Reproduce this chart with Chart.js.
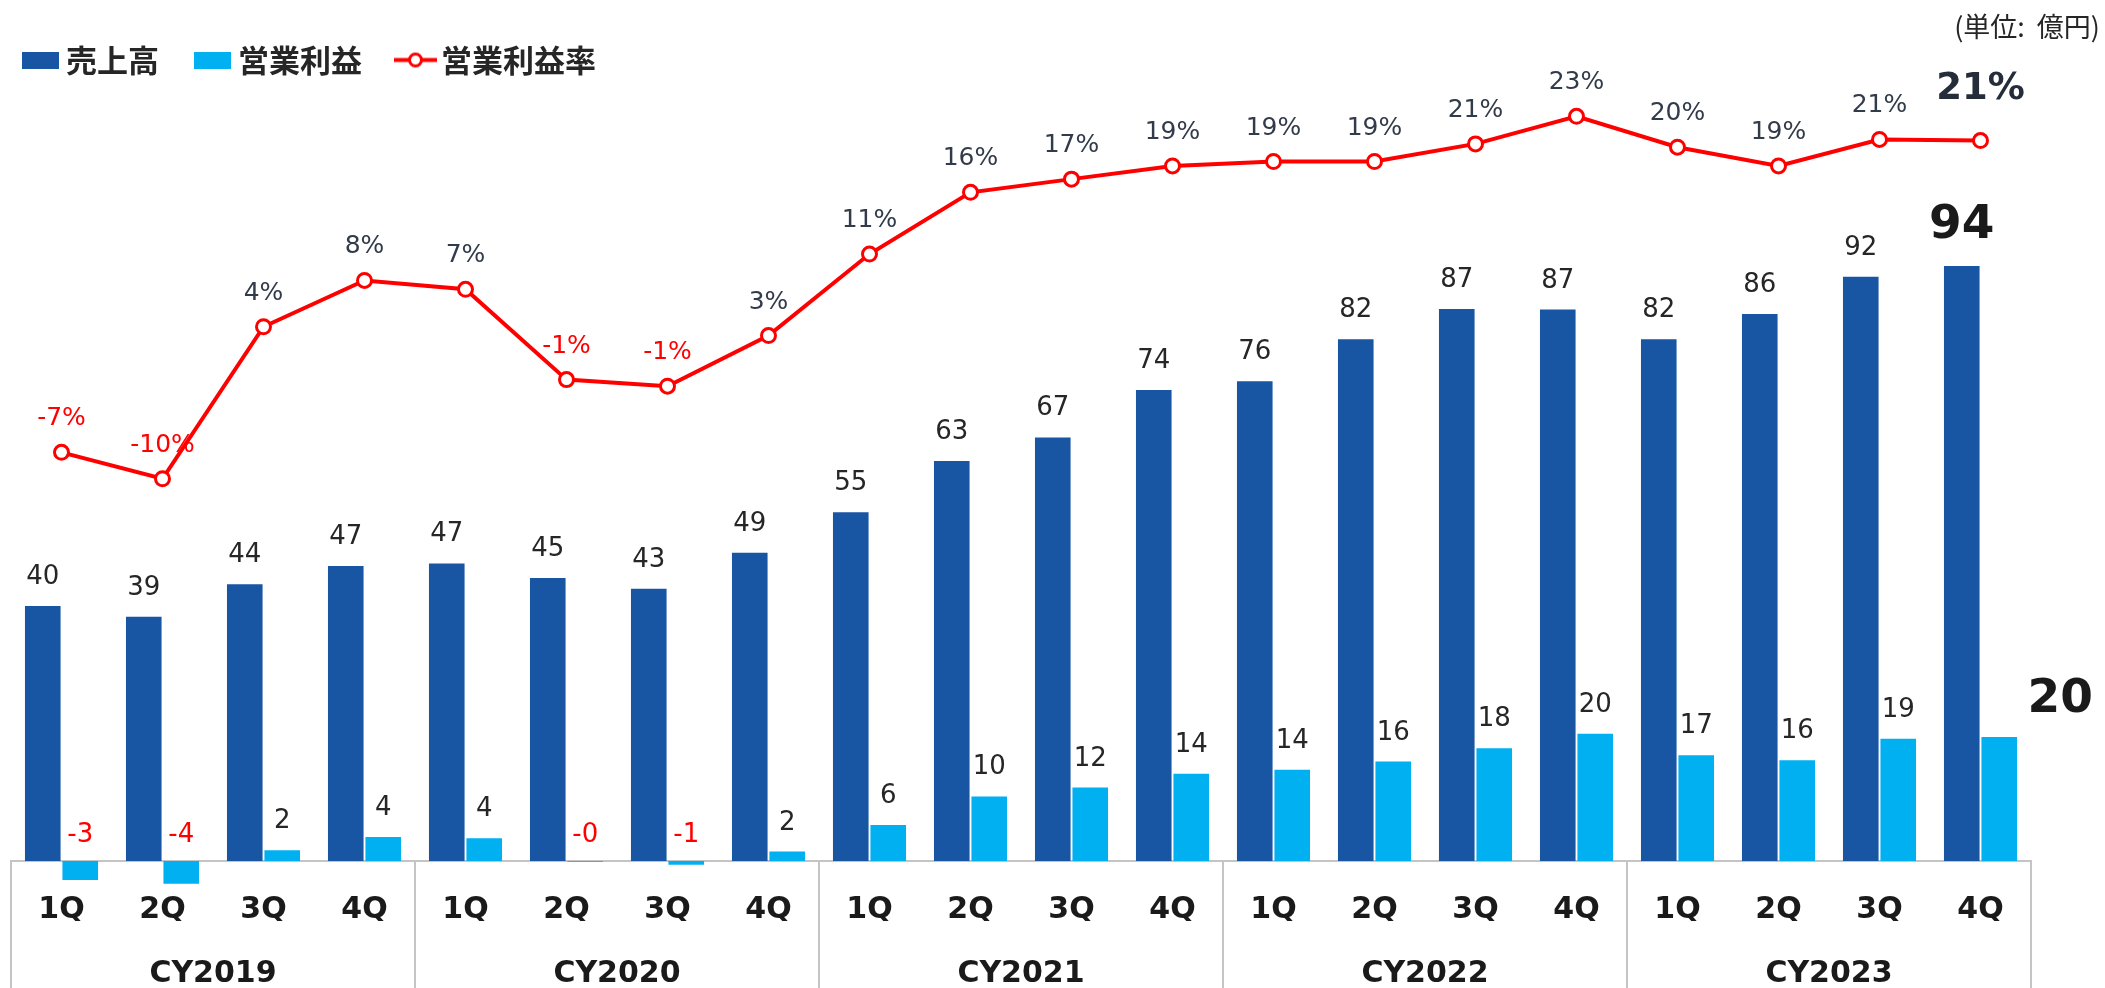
<!DOCTYPE html>
<html lang="ja">
<head>
  <meta charset="UTF-8" />
  <title>売上高・営業利益・営業利益率</title>
  <script src="https://cdn.jsdelivr.net/npm/chart.js@4.4.0"></script>
  <style>
    html, body { margin: 0; padding: 0; background: #fff; }
    canvas { display: block; }
  </style>
</head>
<body>
  <canvas id="salesChart" width="2105" height="988"></canvas>

  <script>
    // quarter / year axis labels
    const quarters = ['1Q', '2Q', '3Q', '4Q', '1Q', '2Q', '3Q', '4Q', '1Q', '2Q', '3Q', '4Q',
                      '1Q', '2Q', '3Q', '4Q', '1Q', '2Q', '3Q', '4Q'];
    const years = ['CY2019', 'CY2020', 'CY2021', 'CY2022', 'CY2023'];

    // 億円
    const sales = [40.3, 38.6, 43.7, 46.6, 47.0, 44.7, 43.0, 48.7, 55.1, 63.2,
                   66.9, 74.4, 75.8, 82.4, 87.2, 87.1, 82.4, 86.4, 92.3, 94.0];
    const opProfit = [-3.0, -3.6, 1.7, 3.8, 3.6, -0.1, -0.6, 1.5, 5.7, 10.2,
                      11.6, 13.8, 14.4, 15.7, 17.8, 20.1, 16.7, 15.9, 19.3, 19.6];
    // %
    const opMargin = [-7.4, -9.8, 4.0, 8.2, 7.4, -0.8, -1.4, 3.2, 10.6, 16.2,
                      17.4, 18.6, 19.0, 19.0, 20.6, 23.1, 20.3, 18.6, 21.0, 20.9];

    const highlightIndex = 19;

    const salesColor = '#1855a3';
    const profitColor = '#00b0f0';
    const marginColor = '#ff0000';
    const textColor = '#262626';

    function fmt(v) {
      const r = Math.abs(Math.round(v));
      return (v < 0 ? '-' : '') + r;
    }

    function makeIcon(w, h, draw) {
      const c = document.createElement('canvas');
      c.width = w;
      c.height = h;
      draw(c.getContext('2d'), w, h);
      return c;
    }

    const legendIcons = [
      makeIcon(37, 17, (g, w, h) => { g.fillStyle = salesColor; g.fillRect(0, 0, w, h); }),
      makeIcon(37, 17, (g, w, h) => { g.fillStyle = profitColor; g.fillRect(0, 0, w, h); }),
      makeIcon(43, 19, (g, w, h) => {
        g.strokeStyle = marginColor;
        g.lineWidth = 4;
        g.beginPath();
        g.moveTo(0, h / 2);
        g.lineTo(w, h / 2);
        g.stroke();
        g.beginPath();
        g.arc(w / 2, h / 2, 6, 0, Math.PI * 2);
        g.fillStyle = '#fff';
        g.fill();
        g.lineWidth = 3;
        g.stroke();
      })
    ];

    // value labels above bars and line points
    const valueLabels = {
      id: 'valueLabels',
      afterDatasetsDraw(chart) {
        const ctx = chart.ctx;
        ctx.save();
        ctx.textAlign = 'center';
        ctx.textBaseline = 'alphabetic';

        [0, 1].forEach(di => {
          const values = chart.data.datasets[di].data;
          chart.getDatasetMeta(di).data.forEach((bar, i) => {
            const v = values[i];
            const top = Math.min(bar.y, bar.base);
            if (i === highlightIndex) {
              ctx.font = 'bold 47px "DejaVu Sans"';
              ctx.fillStyle = '#1a1a1a';
              const dx = di === 1 ? 61 : 0;
              ctx.fillText(fmt(v), bar.x + dx, top - (di === 1 ? 25 : 28));
              return;
            }
            ctx.font = '26px "DejaVu Sans"';
            ctx.fillStyle = v < 0 ? marginColor : textColor;
            ctx.fillText(fmt(v), bar.x, v < 0 ? bar.base - 19 : top - 22);
          });
        });

        const rates = chart.data.datasets[2].data;
        chart.getDatasetMeta(2).data.forEach((pt, i) => {
          const v = rates[i];
          if (i === highlightIndex) {
            ctx.font = 'bold 37px "DejaVu Sans"';
            ctx.fillStyle = '#252d3a';
            ctx.fillText(fmt(v) + '%', pt.x, pt.y - 42);
            return;
          }
          ctx.font = '25px "DejaVu Sans"';
          ctx.fillStyle = v < 0 ? marginColor : '#323b4a';
          ctx.fillText(fmt(v) + '%', pt.x, pt.y - 27);
        });
        ctx.restore();
      }
    };

    const unitLabel = {
      id: 'unitLabel',
      afterDraw(chart) {
        const ctx = chart.ctx;
        ctx.save();
        ctx.font = '27px "Noto Sans CJK JP"';
        ctx.fillStyle = textColor;
        ctx.textAlign = 'right';
        ctx.textBaseline = 'middle';
        ctx.fillText('(単位:  億円)', 2100, 27);
        ctx.restore();
      }
    };

    const axisFont = { family: '"DejaVu Sans"', size: 30, weight: 'bold' };
    const lineGray = '#c4c4c4';

    new Chart(document.getElementById('salesChart'), {
      data: {
        labels: quarters,
        datasets: [
          {
            type: 'bar',
            label: '売上高',
            data: sales,
            backgroundColor: salesColor,
            yAxisID: 'y',
            order: 2,
            clip: false,
            categoryPercentage: 0.742,
            barPercentage: 0.95
          },
          {
            type: 'bar',
            label: '営業利益',
            data: opProfit,
            backgroundColor: profitColor,
            yAxisID: 'y',
            order: 2,
            clip: false,
            categoryPercentage: 0.742,
            barPercentage: 0.95
          },
          {
            type: 'line',
            label: '営業利益率',
            data: opMargin,
            borderColor: marginColor,
            borderWidth: 4,
            pointRadius: 7,
            pointBorderWidth: 3,
            pointBackgroundColor: '#fff',
            pointBorderColor: marginColor,
            tension: 0,
            yAxisID: 'y1',
            order: 1,
            clip: false
          }
        ]
      },
      options: {
        responsive: false,
        animation: false,
        events: [],
        layout: { padding: { top: 1, left: -13, right: 74, bottom: 0 } },
        scales: {
          x: {
            type: 'category',
            position: 'bottom',
            weight: 1,
            offset: true,
            grid: {
              offset: true,
              drawOnChartArea: false,
              drawTicks: true,
              tickLength: 127,
              lineWidth: 2,
              color: ctx => (ctx.index === undefined || ctx.index % 4 === 0) ? lineGray : 'rgba(0,0,0,0)'
            },
            border: { display: true, color: lineGray, width: 2 },
            ticks: {
              autoSkip: false,
              maxRotation: 0,
              padding: -96,
              color: '#1a1a1a',
              font: axisFont
            },
            afterFit: s => { s.height = 60; }
          },
          x2: {
            type: 'category',
            position: 'bottom',
            weight: 2,
            labels: years,
            offset: true,
            grid: { display: false, drawTicks: false },
            border: { display: false },
            ticks: {
              autoSkip: false,
              maxRotation: 0,
              padding: 35,
              color: '#1a1a1a',
              font: axisFont
            },
            afterFit: s => { s.height = 67; }
          },
          y: {
            position: 'left',
            bounds: 'data',
            min: 0,
            max: 122.5,
            grid: { display: false },
            border: { display: false },
            ticks: { display: false },
            afterFit: s => { s.width = 24; }
          },
          y1: {
            position: 'right',
            display: false,
            bounds: 'data',
            min: -44.5,
            max: 25.9
          }
        },
        plugins: {
          tooltip: { enabled: false },
          title: { display: false },
          legend: {
            position: 'top',
            align: 'start',
            labels: {
              usePointStyle: true,
              pointStyleWidth: 20,
              padding: 43.5,
              color: textColor,
              font: { family: '"Noto Sans CJK JP"', size: 31, weight: 'bold' },
              generateLabels(chart) {
                const items = Chart.defaults.plugins.legend.labels.generateLabels(chart);
                items.sort((a, b) => a.datasetIndex - b.datasetIndex);
                items.forEach(it => {
                  it.pointStyle = legendIcons[it.datasetIndex];
                  it.lineWidth = 0;
                });
                return items;
              }
            }
          }
        }
      },
      plugins: [valueLabels, unitLabel]
    });
  </script>
</body>
</html>
